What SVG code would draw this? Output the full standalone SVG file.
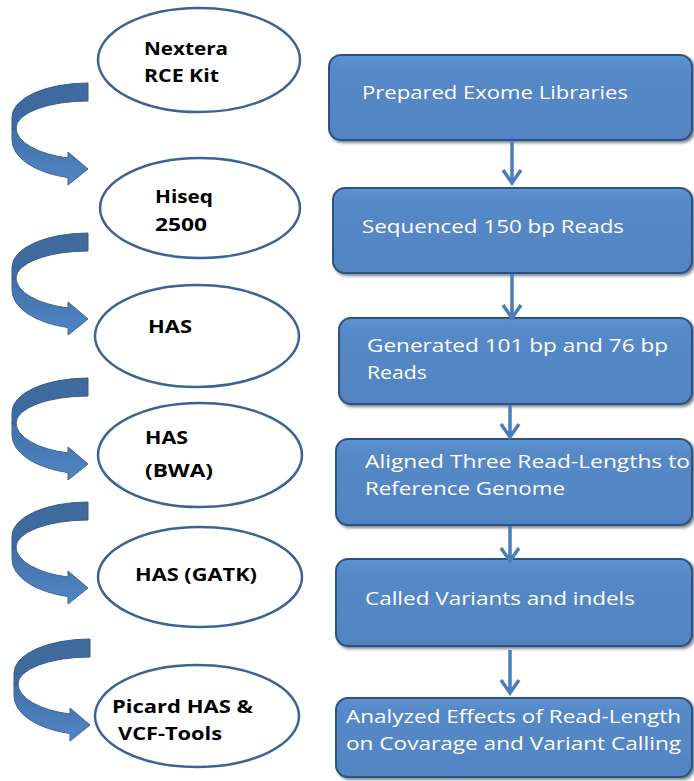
<svg xmlns="http://www.w3.org/2000/svg" width="694" height="781" viewBox="0 0 694 781">
  <defs>
    <style>
      .oval { fill: #ffffff; stroke: #3b6496; stroke-width: 2.5; }
      .oval-text { font-family: "Open Sans", "Liberation Sans", sans-serif; font-weight: bold; font-size: 18px; fill: #000000; }
      .step { fill: url(#stepFill); stroke: #2f527c; stroke-width: 2; filter: url(#stepShadow); }
      .step-text { font-family: "Open Sans", "Liberation Sans", sans-serif; font-size: 18.5px; fill: #ffffff; }
      .flow { fill: none; stroke: #4a7ebb; stroke-width: 3.5; }
      .turn-back { fill: #3f6a9d; stroke: #365d8c; stroke-width: 1; }
      .turn-front { fill: url(#turnFill); stroke: #3a6699; stroke-width: 1; }
    </style>
    <linearGradient id="stepFill" x1="0" y1="0" x2="0" y2="1">
      <stop offset="0" stop-color="#5e92d0"/>
      <stop offset="0.15" stop-color="#5689c8"/>
      <stop offset="1" stop-color="#5283c2"/>
    </linearGradient>
    <linearGradient id="turnFill" x1="0" y1="0" x2="0" y2="1">
      <stop offset="0" stop-color="#4271a8"/>
      <stop offset="1" stop-color="#5185c4"/>
    </linearGradient>
    <filter id="stepShadow" x="-5%" y="-10%" width="112%" height="125%">
      <feGaussianBlur in="SourceAlpha" stdDeviation="1.5"/>
      <feOffset dx="1.5" dy="2" result="blurred"/>
      <feFlood flood-color="#1c2f48" flood-opacity="0.6"/>
      <feComposite in2="blurred" operator="in"/>
      <feMerge>
        <feMergeNode/>
        <feMergeNode in="SourceGraphic"/>
      </feMerge>
    </filter>
    <!-- curved hand-off arrow, drawn once and placed beside each tool -->
    <g id="turnArrow">
      <path class="turn-front" d="M12,128 L12,140 A76,39 0 0 0 68,177.6 L68,185 L88,169 L68,152 L68,158 A72,31.6 0 0 1 16,128 Z"/>
      <path class="turn-back" d="M88,83 A76,34 0 0 0 12,117 L12,129 L16,129 L16,128 A72,27 0 0 1 88,101 Z"/>
    </g>
  </defs>

  <rect width="694" height="781" fill="#ffffff"/>

  <!-- tool ovals -->
  <g id="tool-nextera">
    <ellipse class="oval" cx="199" cy="60" rx="101" ry="52"/>
    <text class="oval-text" x="144" y="55" textLength="84" lengthAdjust="spacingAndGlyphs">Nextera</text>
    <text class="oval-text" x="144" y="82" textLength="75" lengthAdjust="spacingAndGlyphs">RCE Kit</text>
  </g>
  <g id="tool-hiseq">
    <ellipse class="oval" cx="200" cy="208" rx="100" ry="50"/>
    <text class="oval-text" x="155" y="203" textLength="58" lengthAdjust="spacingAndGlyphs">Hiseq</text>
    <text class="oval-text" x="155" y="231" textLength="52" lengthAdjust="spacingAndGlyphs">2500</text>
  </g>
  <g id="tool-has">
    <ellipse class="oval" cx="197" cy="336" rx="102" ry="51"/>
    <text class="oval-text" x="148" y="333" textLength="44" lengthAdjust="spacingAndGlyphs">HAS</text>
  </g>
  <g id="tool-has-bwa">
    <ellipse class="oval" cx="200" cy="455" rx="102" ry="52"/>
    <text class="oval-text" x="145" y="444" textLength="43" lengthAdjust="spacingAndGlyphs">HAS</text>
    <text class="oval-text" x="145" y="477" textLength="68" lengthAdjust="spacingAndGlyphs">(BWA)</text>
  </g>
  <g id="tool-has-gatk">
    <ellipse class="oval" cx="200" cy="577" rx="102" ry="50"/>
    <text class="oval-text" x="135" y="581" textLength="122" lengthAdjust="spacingAndGlyphs">HAS (GATK)</text>
  </g>
  <g id="tool-picard">
    <ellipse class="oval" cx="197" cy="716" rx="102" ry="51"/>
    <text class="oval-text" x="112" y="713" textLength="141" lengthAdjust="spacingAndGlyphs">Picard HAS &amp;</text>
    <text class="oval-text" x="118" y="740" textLength="104" lengthAdjust="spacingAndGlyphs">VCF-Tools</text>
  </g>

  <!-- workflow steps -->
  <g id="step-prepare">
    <rect class="step" x="329" y="55" width="363" height="85" rx="12"/>
    <text class="step-text" x="362" y="99" textLength="266" lengthAdjust="spacingAndGlyphs">Prepared Exome Libraries</text>
  </g>
  <g id="step-sequence">
    <rect class="step" x="333" y="188" width="359" height="85" rx="12"/>
    <text class="step-text" x="362" y="233" textLength="262" lengthAdjust="spacingAndGlyphs">Sequenced 150 bp Reads</text>
  </g>
  <g id="step-generate">
    <rect class="step" x="339" y="318" width="353" height="86" rx="12"/>
    <text class="step-text" x="367" y="352" textLength="301" lengthAdjust="spacingAndGlyphs">Generated 101 bp and 76 bp</text>
    <text class="step-text" x="367" y="379" textLength="60" lengthAdjust="spacingAndGlyphs">Reads</text>
  </g>
  <g id="step-align">
    <rect class="step" x="336" y="439" width="356" height="86" rx="12"/>
    <text class="step-text" x="365" y="468" textLength="325" lengthAdjust="spacingAndGlyphs">Aligned Three Read-Lengths to</text>
    <text class="step-text" x="365" y="495" textLength="200" lengthAdjust="spacingAndGlyphs">Reference Genome</text>
  </g>
  <g id="step-call">
    <rect class="step" x="336" y="559" width="356" height="87" rx="12"/>
    <text class="step-text" x="365" y="605" textLength="270" lengthAdjust="spacingAndGlyphs">Called Variants and indels</text>
  </g>
  <g id="step-analyze">
    <rect class="step" x="336" y="698" width="356" height="79" rx="12"/>
    <text class="step-text" x="346" y="723" textLength="335" lengthAdjust="spacingAndGlyphs">Analyzed Effects of Read-Length</text>
    <text class="step-text" x="346" y="750" textLength="335" lengthAdjust="spacingAndGlyphs">on Covarage and Variant Calling</text>
  </g>

  <!-- connectors -->
  <g id="connectors">
    <path class="flow" d="M512,141 V183 M503,170 L512,183 L521,170"/>
    <path class="flow" d="M512,274 V318 M503,305 L512,318 L521,305"/>
    <path class="flow" d="M510,405 V437 M501,424 L510,437 L519,424"/>
    <path class="flow" d="M510,526 V561 M501,548 L510,561 L519,548"/>
    <path class="flow" d="M510,650 V693 M501,680 L510,693 L519,680"/>

    <use href="#turnArrow"/>
    <use href="#turnArrow" transform="translate(0,150)"/>
    <use href="#turnArrow" transform="translate(0,295)"/>
    <use href="#turnArrow" transform="translate(0,419)"/>
    <use href="#turnArrow" transform="translate(2,556)"/>
  </g>
</svg>
